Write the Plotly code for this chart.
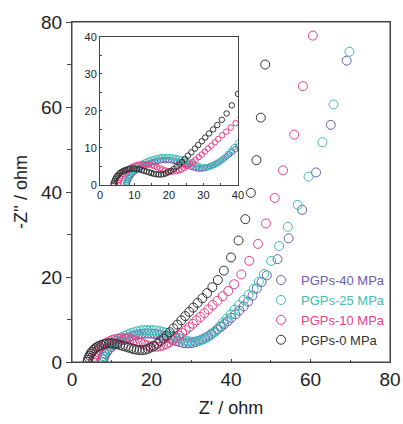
import plotly.graph_objects as go

names = ["PGPs-40 MPa", "PGPs-25 MPa", "PGPs-10 MPa", "PGPs-0 MPa"]
colors = ["#6a5cb0", "#3dbdb6", "#e6428a", "#333333"]

x40 = [7.8,7.9,8.1,8.4,8.8,9.3,9.9,10.5,11.2,11.9,12.7,13.5,14.3,15.1,15.9,16.7,17.5,18.3,19.1,19.9,
       20.7,21.5,22.3,23.1,23.9,24.7,25.5,26.3,27.1,27.9,28.7,29.5,30.3,31.1,31.9,32.7,33.5,34.3,35.1,35.9,
       36.7,37.5,38.3,39.2,40.1,41.1,42.1,43.2,44.3,45.4,46.5,47.7,49.0,51.7,54.5,57.9,61.4,65.1,69.1]
y40 = [0.0,0.6,1.2,1.8,2.4,3.0,3.5,4.0,4.4,4.8,5.2,5.5,5.8,6.1,6.3,6.5,6.6,6.7,6.7,6.7,
       6.6,6.5,6.3,6.1,5.8,5.5,5.2,4.9,4.7,4.5,4.4,4.4,4.5,4.7,5.0,5.3,5.7,6.1,6.6,7.1,
       7.7,8.3,8.9,9.6,10.4,11.2,12.1,13.1,14.2,15.6,17.3,18.8,20.4,24.2,29.1,35.8,44.6,55.8,70.9]

x25 = [7.5,7.6,7.8,8.1,8.5,9.0,9.6,10.2,10.9,11.6,12.4,13.2,14.0,14.8,15.6,16.4,17.2,18.0,18.8,19.6,
       20.4,21.2,22.0,22.8,23.6,24.4,25.2,26.0,26.8,27.6,28.4,29.2,30.0,30.8,31.6,32.4,33.2,34.0,34.8,35.6,
       36.4,37.2,38.0,38.9,39.9,40.9,42.0,43.2,44.4,45.7,47.0,48.3,50.1,52.1,54.3,56.8,59.5,63.0,65.8,69.8]
y25 = [0.0,0.7,1.4,2.1,2.8,3.4,4.0,4.5,5.0,5.4,5.8,6.2,6.5,6.8,7.0,7.2,7.4,7.5,7.5,7.5,
       7.5,7.4,7.3,7.1,6.9,6.6,6.3,6.0,5.7,5.4,5.1,4.9,4.8,4.8,4.9,5.1,5.4,5.8,6.3,6.9,
       7.6,8.4,9.3,10.2,11.2,12.3,13.4,14.6,15.8,17.2,18.9,20.7,23.8,27.3,31.8,37.0,43.6,51.7,60.6,73.0]

x10 = [5.3,5.4,5.6,5.9,6.2,6.6,7.1,7.6,8.2,8.8,9.5,10.2,10.9,11.7,12.5,13.3,14.1,14.9,15.7,16.5,
       17.3,18.1,18.9,19.7,20.5,21.3,22.1,22.9,23.7,24.5,25.3,26.1,26.9,27.7,28.6,29.5,30.4,31.3,32.3,33.3,
       34.3,35.4,36.6,37.9,39.3,40.8,42.6,44.6,46.8,48.8,51.0,53.1,55.9,58.1,60.6]
y10 = [0.0,0.6,1.2,1.8,2.4,2.9,3.4,3.8,4.2,4.6,4.9,5.2,5.4,5.5,5.6,5.6,5.5,5.3,5.1,4.8,
       4.5,4.2,3.9,3.7,3.6,3.6,3.7,3.9,4.2,4.6,5.1,5.6,6.2,6.8,7.5,8.2,9.0,9.8,10.6,11.5,
       12.4,13.4,14.4,15.5,16.7,18.3,20.6,23.8,27.8,32.6,38.6,45.1,53.5,64.9,76.8]

x0 = [3.9,4.0,4.2,4.4,4.7,5.0,5.4,5.8,6.3,6.8,7.4,8.0,8.6,9.3,10.0,10.7,11.4,12.1,12.8,13.5,
      14.2,14.9,15.6,16.3,17.0,17.7,18.4,19.1,19.8,20.6,21.4,22.2,23.0,23.8,24.6,25.5,26.5,27.5,28.5,29.5,
      30.5,31.6,32.8,34.0,35.3,36.7,38.2,40.0,41.9,43.6,45.0,46.4,47.5,48.6]
y0 = [0.0,0.5,1.0,1.5,2.0,2.4,2.8,3.2,3.5,3.8,4.0,4.2,4.3,4.4,4.4,4.3,4.2,4.0,3.8,3.6,
      3.4,3.2,3.0,2.9,2.8,2.8,2.9,3.1,3.4,3.8,4.3,4.9,5.5,6.2,7.0,7.9,8.8,9.8,10.8,11.8,
      12.8,13.9,15.0,16.2,17.6,19.3,21.5,24.6,28.6,33.6,39.8,47.5,57.5,70.0]

xs = [x40, x25, x10, x0]
ys = [y40, y25, y10, y0]

main_ticks = [0, 20, 40, 60, 80]
inset_ticks = [0, 10, 20, 30, 40]

fig = go.Figure()
for n, c, x, y in zip(names, colors, xs, ys):
    fig.add_trace(go.Scatter(
        x=x, y=y, mode="markers", name="<span style='color:%s'>%s</span>" % (c, n),
        marker=dict(symbol="circle-open", size=9, color=c, line=dict(width=1, color=c)),
        xaxis="x", yaxis="y"))
for n, c, x, y in zip(names, colors, xs, ys):
    fig.add_trace(go.Scatter(
        x=x, y=y, mode="markers", showlegend=False,
        marker=dict(symbol="circle-open", size=5.5, color=c, line=dict(width=1, color=c)),
        xaxis="x2", yaxis="y2"))

axcol = "#444444"
font = "Liberation Sans, Arial, sans-serif"
fig.update_layout(
    width=403, height=424,
    margin=dict(l=72, r=13, t=22, b=62),
    paper_bgcolor="white", plot_bgcolor="white",
    font=dict(family=font, color="#222222"),
    xaxis=dict(domain=[0, 1], range=[0, 80], tickvals=main_ticks, showgrid=False, zeroline=False,
               showline=True, mirror=True, linecolor=axcol, linewidth=1, automargin=False,
               ticks="inside", ticklen=3, tickcolor=axcol,
               minor=dict(dtick=10, ticks="inside", ticklen=2, tickcolor=axcol),
               tickfont=dict(size=19), title=dict(text="Z' / ohm", font=dict(size=18), standoff=12)),
    yaxis=dict(domain=[0, 1], range=[0, 80], tickvals=main_ticks, showgrid=False, zeroline=False,
               showline=True, mirror=True, linecolor=axcol, linewidth=1, automargin=False,
               ticks="outside", ticklen=5, tickcolor=axcol,
               minor=dict(dtick=10, ticks="outside", ticklen=4, tickcolor=axcol),
               tickfont=dict(size=19), title=dict(text="-Z'' / ohm", font=dict(size=18), standoff=8)),
    xaxis2=dict(domain=[0.088, 0.522], anchor="y2", range=[0, 40], tickvals=inset_ticks,
                showgrid=False, zeroline=False, showline=True, mirror=True, linecolor=axcol, linewidth=1,
                automargin=False, ticks="inside", ticklen=2, tickcolor=axcol,
                minor=dict(dtick=5, ticks="inside", ticklen=2, tickcolor=axcol),
                tickfont=dict(size=11)),
    yaxis2=dict(domain=[0.521, 0.956], anchor="x2", range=[0, 40], tickvals=inset_ticks,
                showgrid=False, zeroline=False, showline=True, mirror=True, linecolor=axcol, linewidth=1,
                automargin=False, ticks="inside", ticklen=2, tickcolor=axcol,
                minor=dict(dtick=5, ticks="inside", ticklen=2, tickcolor=axcol),
                tickfont=dict(size=11)),
    legend=dict(x=1.0, y=0.285, xanchor="right", yanchor="top", bgcolor="rgba(0,0,0,0)",
                font=dict(size=13), itemwidth=30, tracegroupgap=0),
    shapes=[dict(type="rect", xref="x domain", yref="y domain", x0=0, x1=1, y0=0, y1=1,
                 line=dict(color=axcol, width=1), fillcolor="rgba(0,0,0,0)", layer="above")],
)
# remove the browser's default 8px body margin so the 403x424 figure fills the window exactly
fig.write_html("out.html", config={"displayModeBar": False},
               post_script="document.body.style.margin='0';")
